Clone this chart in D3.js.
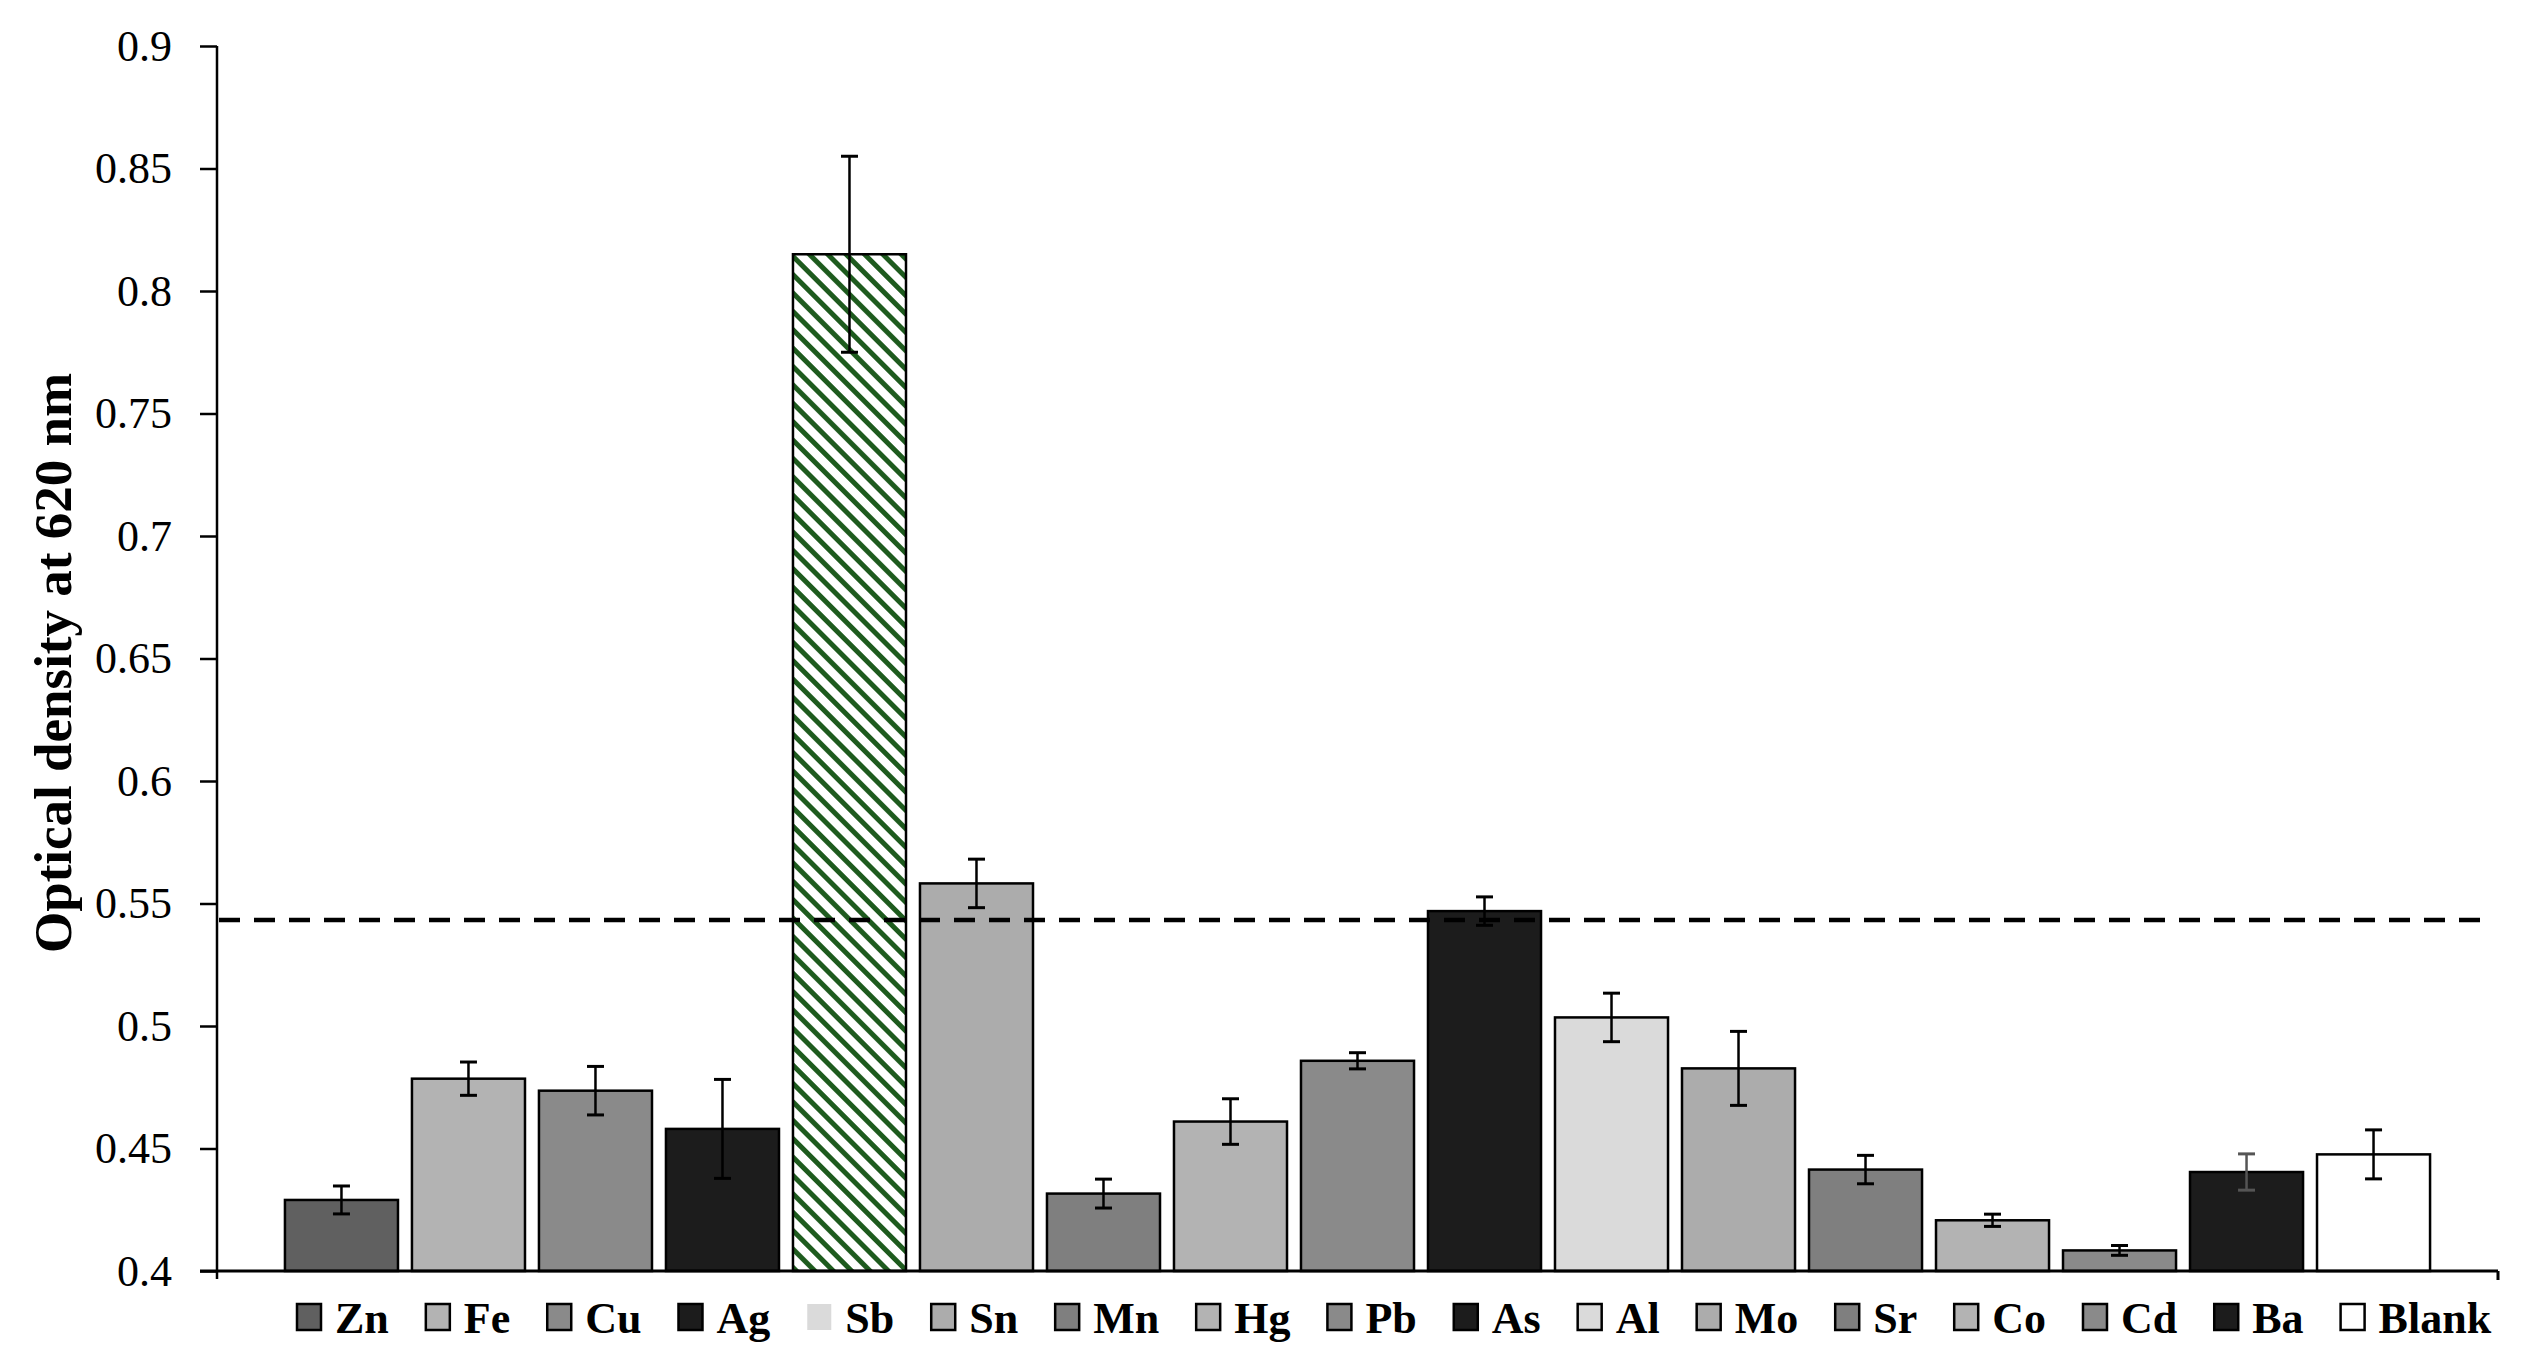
<!DOCTYPE html>
<html>
<head>
<meta charset="utf-8">
<script src="https://cdn.jsdelivr.net/npm/d3@7"></script>
<style>
  body { margin: 0; background: #fff; }
  svg { display: block; }
</style>
</head>
<body>
<div id="chart"></div>
<script>
// Data
const categories = ["Zn", "Fe", "Cu", "Ag", "Sb", "Sn", "Mn", "Hg", "Pb", "As", "Al", "Mo", "Sr", "Co", "Cd", "Ba", "Blank"];
const means = [0.429, 0.4785, 0.4736, 0.458, 0.815, 0.5582, 0.4316, 0.461, 0.4858, 0.5469, 0.5035, 0.4827, 0.4414, 0.4207, 0.4084, 0.4404, 0.4476];
const errors = [0.0057, 0.0068, 0.0099, 0.0202, 0.040, 0.0099, 0.0059, 0.0093, 0.0033, 0.0058, 0.0099, 0.0151, 0.0058, 0.0025, 0.002, 0.0074, 0.010];
const threshold = 0.5433;
const yTicks = [0.4, 0.45, 0.5, 0.55, 0.6, 0.65, 0.7, 0.75, 0.8, 0.85, 0.9];

// Bar fills (Sb uses the hatch pattern)
const fills = ["#606060", "#b3b3b3", "#8a8a8a", "#1c1c1c", "url(#hatch)", "#acacac", "#7f7f7f", "#b3b3b3",
  "#8a8a8a", "#1c1c1c", "#dadada", "#acacac", "#7f7f7f", "#b3b3b3", "#8a8a8a", "#1c1c1c", "#ffffff"];

const data = categories.map((c, i) => ({ name: c, value: means[i], err: errors[i], fill: fills[i] }));

const W = 2529, H = 1367;
const plotLeft = 217, plotRight = 2498, plotTop = 46, plotBottom = 1271;
const font = "'Liberation Serif', 'Times New Roman', serif";

const svg = d3.select("#chart").append("svg")
  .attr("width", W)
  .attr("height", H);

svg.append("rect").attr("width", W).attr("height", H).attr("fill", "#fff");

// Hatch pattern for the Sb bar
const defs = svg.append("defs");
defs.append("pattern")
  .attr("id", "hatch")
  .attr("patternUnits", "userSpaceOnUse")
  .attr("width", 13)
  .attr("height", 13)
  .attr("patternTransform", "rotate(-45)")
  .call(p => p.append("rect").attr("width", 13).attr("height", 13).attr("fill", "#fff"))
  .call(p => p.append("rect").attr("width", 5).attr("height", 13).attr("fill", "#1e5b1e"));

const x = d3.scaleBand()
  .domain(categories)
  .range([plotLeft, plotRight])
  .paddingInner(0.11)
  .paddingOuter(0.535);

const y = d3.scaleLinear()
  .domain([0.4, 0.9])
  .range([plotBottom, plotTop]);

// Bars
svg.append("g").selectAll("rect")
  .data(data)
  .join("rect")
  .attr("x", d => x(d.name))
  .attr("y", d => y(d.value))
  .attr("width", x.bandwidth())
  .attr("height", d => y(0.4) - y(d.value))
  .attr("fill", d => d.fill)
  .attr("stroke", "#000")
  .attr("stroke-width", 2.5);

// Threshold dashed line
svg.append("line")
  .attr("x1", plotLeft + 2)
  .attr("x2", 2480)
  .attr("y1", y(threshold))
  .attr("y2", y(threshold))
  .attr("stroke", "#000")
  .attr("stroke-width", 4.5)
  .attr("stroke-dasharray", "21,14");

// Error bars
const eb = svg.append("g").selectAll("g")
  .data(data)
  .join("g")
  .attr("stroke", d => d.name === "Ba" ? "#555" : "#000")
  .attr("stroke-width", 2.5);

eb.append("line")
  .attr("x1", d => x(d.name) + x.bandwidth() / 2)
  .attr("x2", d => x(d.name) + x.bandwidth() / 2)
  .attr("y1", d => y(d.value + d.err))
  .attr("y2", d => y(d.value - d.err));

eb.selectAll("line.cap")
  .data(d => [d.value + d.err, d.value - d.err].map(v => ({ v, cx: x(d.name) + x.bandwidth() / 2 })))
  .join("line")
  .attr("class", "cap")
  .attr("x1", d => d.cx - 8.5)
  .attr("x2", d => d.cx + 8.5)
  .attr("y1", d => y(d.v))
  .attr("y2", d => y(d.v))
  .attr("stroke-width", 3);

// Y axis
const yAxis = svg.append("g")
  .attr("transform", `translate(${plotLeft},0)`)
  .call(d3.axisLeft(y).tickValues(yTicks).tickSize(17).tickPadding(28).tickFormat(d => String(+d.toFixed(2))));

yAxis.select(".domain").attr("d", `M0,${plotTop}V${plotBottom + 8}`).attr("stroke-width", 2.5);
yAxis.selectAll(".tick line").attr("stroke-width", 2.5);
yAxis.selectAll(".tick text")
  .attr("font-family", font)
  .attr("font-size", 44)
  .attr("fill", "#000");

// X axis line with end ticks
svg.append("path")
  .attr("d", `M${plotLeft - 17},${plotBottom}H${plotRight}M${plotRight},${plotBottom}V${plotBottom + 9}`)
  .attr("stroke", "#000")
  .attr("stroke-width", 3)
  .attr("fill", "none");

// Y axis title
svg.append("text")
  .attr("transform", `translate(71,663) rotate(-90)`)
  .attr("text-anchor", "middle")
  .attr("font-family", font)
  .attr("font-weight", "bold")
  .attr("font-size", 53)
  .text("Optical density at 620 nm");

// Legend
const legend = svg.append("g").attr("transform", "translate(297,1304)");
let lx = 0;
data.forEach(d => {
  const item = legend.append("g").attr("transform", `translate(${lx},0)`);
  item.append("rect")
    .attr("width", 24)
    .attr("height", 26)
    .attr("fill", d.name === "Sb" ? "#dadada" : d.fill)
    .attr("stroke", d.name === "Sb" ? "none" : "#000")
    .attr("stroke-width", 2.5);
  const t = item.append("text")
    .attr("x", 38)
    .attr("y", 29)
    .attr("font-family", font)
    .attr("font-weight", "bold")
    .attr("font-size", 44)
    .text(d.name);
  lx += 38 + t.node().getComputedTextLength() + 37;
});
</script>
</body>
</html>
